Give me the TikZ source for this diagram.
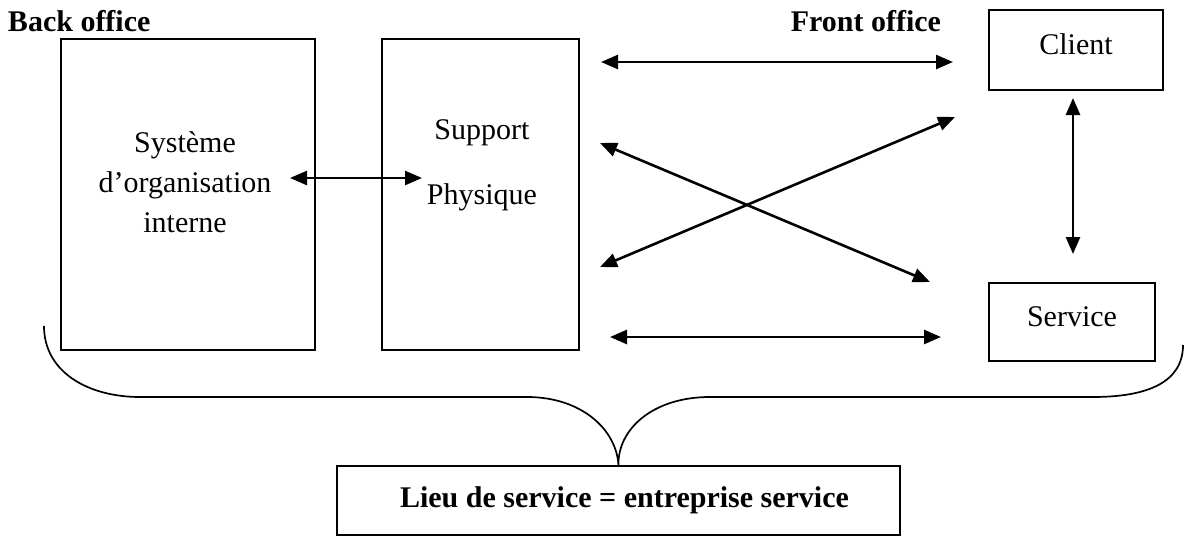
\documentclass[tikz,border=0pt]{standalone}
\usepackage{fontspec}
\setmainfont{Liberation Serif}
\usetikzlibrary{arrows.meta}
\begin{document}
\begin{tikzpicture}[x=1pt,y=-1pt,
  every node/.style={inner sep=0pt, outer sep=0pt},
  txt/.style={font=\fontsize{30}{40}\selectfont, align=center},
  bold/.style={font=\fontsize{30}{36}\selectfont\bfseries},
  box/.style={draw, line width=2.3pt},
  link/.style={line width=2.6pt, {Triangle[length=17pt,width=14pt]}-{Triangle[length=17pt,width=14pt]}},
  brace/.style={line width=1.7pt}]
\useasboundingbox (0,0) rectangle (1184,536);

% titles
\node[bold, anchor=west] (back) at (8,21) {Back office};
\node[bold, anchor=east] (front) at (941,21) {Front office};

% back-office boxes
\node[box, minimum width=254pt, minimum height=311pt, anchor=north west] (org) at (61,39) {};
\node[box, minimum width=197pt, minimum height=311pt, anchor=north west] (sup) at (382,39) {};
\node[txt] (orgtxt) at (185,182) {Système\\d’organisation\\interne};
\node[font=\fontsize{30}{65}\selectfont, align=center] (suptxt) at (482,165) {Support\\Physique};

% front-office boxes
\node[box, minimum width=174pt, minimum height=80pt, anchor=north west] (client) at (989,10) {};
\node[txt] at (client.center) [yshift=6pt] {Client};
\node[box, minimum width=166pt, minimum height=78pt, anchor=north west] (service) at (989,283) {};
\node[txt] at (service.center) [yshift=5pt] {Service};

% result box
\node[box, minimum width=563pt, minimum height=69pt, anchor=north west] (lieu) at (337,466) {};
\node[bold] at (lieu.center) [xshift=6pt] {Lieu de service = entreprise service};

% arrow end points
\coordinate (a1) at (290,178);  \coordinate (a2) at (422,178);
\coordinate (t1) at (601,62);   \coordinate (t2) at (953,62);
\coordinate (c1) at (600,143);  \coordinate (c2) at (930,282);
\coordinate (d1) at (600,267);  \coordinate (d2) at (955,117);
\coordinate (b1) at (610,337);  \coordinate (b2) at (941,337);
\coordinate (v1) at (1073,98);  \coordinate (v2) at (1073,254);

\draw[link] (a1) -- (a2);
\draw[link] (t1) -- (t2);
\draw[link] (c1) -- (c2);
\draw[link] (d1) -- (d2);
\draw[link] (b1) -- (b2);
\draw[link] (v1) -- (v2);

% curly brace gathering everything onto the result box
\coordinate (bl) at (44,326);
\coordinate (br) at (1183,345);
\draw[brace] (bl) .. controls (44,372) and (88,397) .. (140,397)
  -- (527,397) .. controls (582,397) and (617,430) .. (lieu.north)
  .. controls (617,430) and (652,397) .. (710,397)
  -- (1093,397) .. controls (1148,397) and (1183,382) .. (br);
\end{tikzpicture}
\end{document}
